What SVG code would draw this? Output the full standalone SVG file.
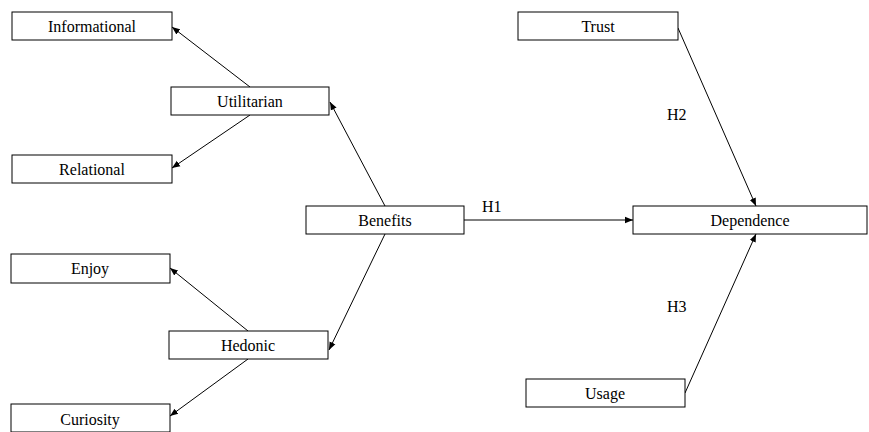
<svg xmlns="http://www.w3.org/2000/svg" width="869" height="432" viewBox="0 0 869 432">
<defs>
<marker id="ah" viewBox="0 0 10 10" refX="10" refY="5" markerWidth="8" markerHeight="8" markerUnits="userSpaceOnUse" orient="auto">
<path d="M0,1 L10,5 L0,9 Z" fill="#000"/>
</marker>
</defs>
<style>
rect{fill:#fff;stroke:#000;stroke-width:1}
text{font-family:"Times New Roman","Liberation Serif","DejaVu Serif",serif;font-size:16px;fill:#000}
.c{text-anchor:middle}
line{stroke:#000;stroke-width:1;marker-end:url(#ah)}
</style>
<rect width="869" height="432" style="fill:#fff;stroke:none"/>
<g id="connectors">
<line x1="250" y1="87" x2="172" y2="27"/>
<line x1="250" y1="115" x2="172" y2="168"/>
<line x1="385" y1="206" x2="330" y2="102"/>
<line x1="385" y1="234" x2="329" y2="350"/>
<line x1="248" y1="331" x2="170" y2="268"/>
<line x1="248" y1="359" x2="170" y2="416"/>
<line x1="464" y1="220" x2="633" y2="220"/>
<line x1="678" y1="28" x2="756" y2="206"/>
<line x1="685" y1="393" x2="756" y2="234"/>
</g>
<g id="informational"><rect x="12" y="12" width="160" height="28"/><text class="c" x="92" y="32">Informational</text></g>
<g id="utilitarian"><rect x="171" y="87" width="158" height="28"/><text class="c" x="250" y="107">Utilitarian</text></g>
<g id="relational"><rect x="12" y="155" width="160" height="28"/><text class="c" x="92" y="175">Relational</text></g>
<g id="benefits"><rect x="306" y="206" width="158" height="28"/><text class="c" x="385" y="226">Benefits</text></g>
<g id="enjoy"><rect x="11" y="254" width="159" height="29"/><text class="c" x="90" y="274">Enjoy</text></g>
<g id="hedonic"><rect x="169" y="331" width="159" height="28"/><text class="c" x="248" y="351">Hedonic</text></g>
<g id="curiosity"><rect x="11" y="404" width="159" height="28"/><text class="c" x="90" y="425">Curiosity</text></g>
<g id="trust"><rect x="518" y="12" width="160" height="28"/><text class="c" x="598" y="32">Trust</text></g>
<g id="dependence"><rect x="633" y="206" width="234" height="28"/><text class="c" x="750" y="226">Dependence</text></g>
<g id="usage"><rect x="526" y="379" width="159" height="28"/><text class="c" x="605" y="399">Usage</text></g>
<g id="labels">
<text x="482" y="212">H1</text>
<text x="667" y="120">H2</text>
<text x="667" y="312">H3</text>
</g>
</svg>
